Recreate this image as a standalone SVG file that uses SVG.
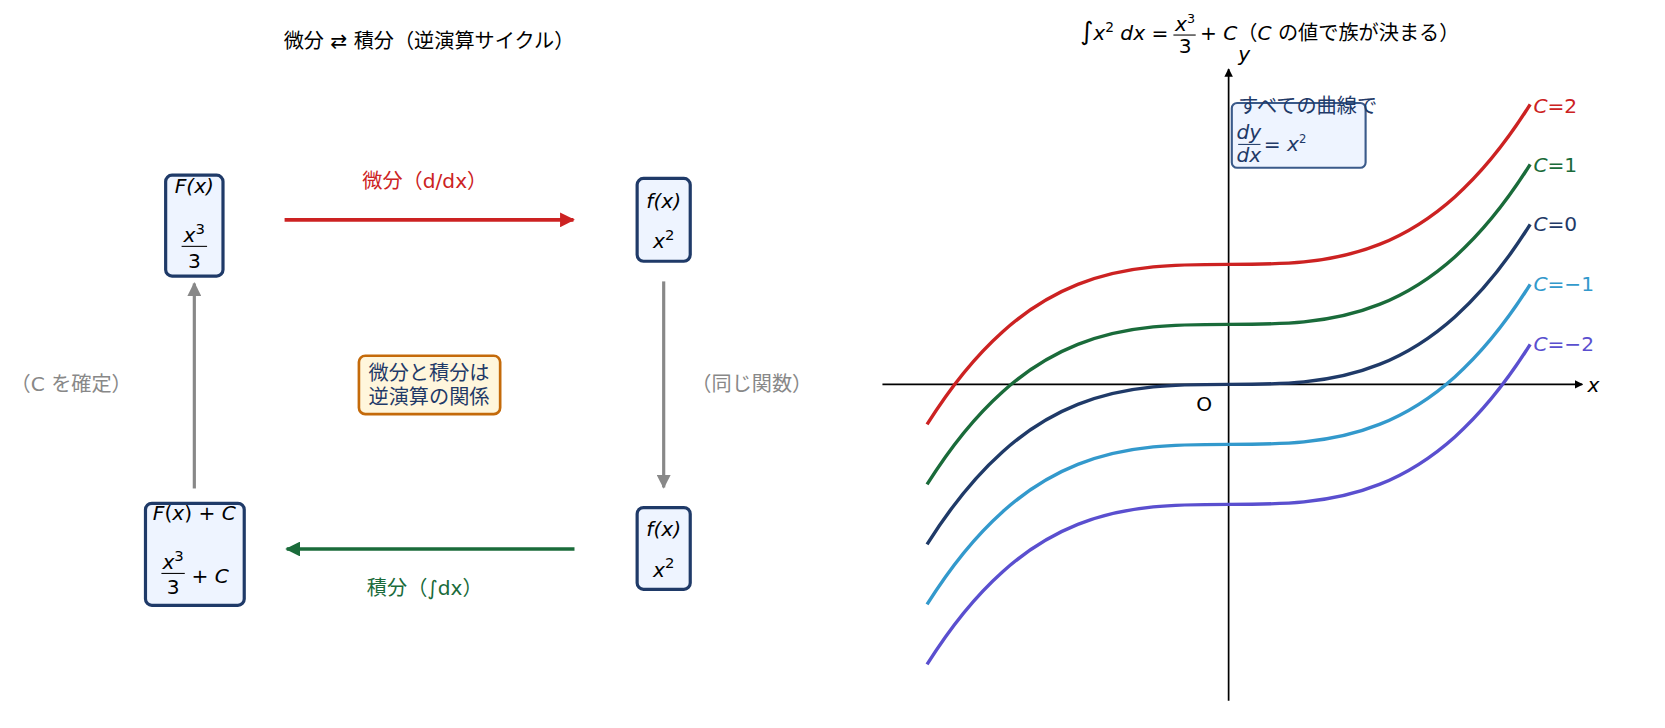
<svg xmlns="http://www.w3.org/2000/svg" width="1665" height="728" viewBox="0 0 1665 728">
<style>
text{font-family:"DejaVu Sans","Noto Sans CJK JP",sans-serif;font-size:19px}
.m{font-style:italic}
.node{fill:#eef4ff;stroke:#1f3a68;stroke-width:3}
.c{fill:none;stroke-width:3.2}
</style>
<defs>
<marker id="ar" viewBox="0 0 10 10" refX="9" refY="5" markerWidth="4" markerHeight="4" orient="auto"><path d="M0,0L10,5L0,10z" fill="#cc2222"/></marker>
<marker id="ag" viewBox="0 0 10 10" refX="9" refY="5" markerWidth="4" markerHeight="4" orient="auto"><path d="M0,0L10,5L0,10z" fill="#1a6b3a"/></marker>
<marker id="ay" viewBox="0 0 10 10" refX="9" refY="5" markerWidth="4.5" markerHeight="4.5" orient="auto"><path d="M0,0L10,5L0,10z" fill="#888"/></marker>
<marker id="ak" viewBox="0 0 10 10" refX="9" refY="5" markerWidth="5" markerHeight="5" orient="auto"><path d="M0,0L10,5L0,10z" fill="#000"/></marker>
<path id="cv" d="M873,512.67C1062.33,211.33 1251.67,512.67 1441,211.33"/>
</defs>
<rect width="1665" height="728" fill="#fff"/>
<g transform="scale(1.0619)">
<text x="404" y="45" text-anchor="middle">微分 ⇄ 積分（逆演算サイクル）</text>
<g id="connectors">
<line x1="268" y1="207" x2="540" y2="207" stroke="#cc2222" stroke-width="3.5" marker-end="url(#ar)"/>
<line x1="625" y1="265" x2="625" y2="459" stroke="#888" stroke-width="3" marker-end="url(#ay)"/>
<line x1="541" y1="517" x2="270" y2="517" stroke="#1a6b3a" stroke-width="3.5" marker-end="url(#ag)"/>
<line x1="183" y1="460" x2="183" y2="267" stroke="#888" stroke-width="3" marker-end="url(#ay)"/>
<text x="400" y="177" text-anchor="middle" fill="#cc2222">微分（d/dx）</text>
<text x="400" y="560" text-anchor="middle" fill="#1a6b3a">積分（∫dx）</text>
<text x="67" y="368" text-anchor="middle" fill="#888">（C を確定）</text>
<text x="708" y="368" text-anchor="middle" fill="#888">（同じ関数）</text>
</g>
<g id="nodeF">
<rect class="node" x="156" y="165" width="54" height="95" rx="6"/>
<text class="m" x="183" y="182" text-anchor="middle" font-size="20">F(x)</text>
<text class="m" x="183" y="228" text-anchor="middle" font-size="20">x<tspan font-size="14" dy="-8" font-style="normal">3</tspan></text>
<line x1="171" y1="232" x2="195" y2="232" stroke="#000" stroke-width="1"/>
<text x="183" y="252" text-anchor="middle" font-size="20">3</text>
</g>
<g id="nodef1">
<rect class="node" x="600" y="168" width="50" height="78" rx="6"/>
<text class="m" x="625" y="196" text-anchor="middle" font-size="20">f(x)</text>
<text class="m" x="625" y="234" text-anchor="middle" font-size="20">x<tspan font-size="14" dy="-8" font-style="normal">2</tspan></text>
</g>
<g id="nodef2">
<rect class="node" x="600" y="478" width="50" height="77" rx="6"/>
<text class="m" x="625" y="505" text-anchor="middle" font-size="20">f(x)</text>
<text class="m" x="625" y="543" text-anchor="middle" font-size="20">x<tspan font-size="14" dy="-8" font-style="normal">2</tspan></text>
</g>
<g id="nodeFC">
<rect class="node" x="137" y="474" width="93" height="96" rx="6"/>
<text x="183" y="490" text-anchor="middle" font-size="20"><tspan class="m">F</tspan>(<tspan class="m">x</tspan>) + <tspan class="m">C</tspan></text>
<text class="m" x="163" y="536" text-anchor="middle" font-size="20">x<tspan font-size="14" dy="-8" font-style="normal">3</tspan></text>
<line x1="152" y1="540" x2="174" y2="540" stroke="#000" stroke-width="1"/>
<text x="163" y="559" text-anchor="middle" font-size="20">3</text>
<text x="198" y="549" text-anchor="middle" font-size="20">+ <tspan class="m">C</tspan></text>
</g>
<g id="center">
<rect x="338" y="335" width="133" height="55" rx="6" fill="#fff6dc" stroke="#c46a0a" stroke-width="2.5"/>
<text x="404" y="358" text-anchor="middle" fill="#1f3a68">微分と積分は</text>
<text x="404" y="380" text-anchor="middle" fill="#1f3a68">逆演算の関係</text>
</g>
<g id="plot">
<text x="1017" y="38"><tspan font-size="24">∫</tspan><tspan class="m">x</tspan><tspan font-size="13" dy="-8">2</tspan><tspan class="m" dy="8"> dx</tspan> =</text>
<text class="m" x="1116" y="29" text-anchor="middle" font-size="17">x<tspan font-size="12" dy="-7" font-style="normal">3</tspan></text>
<line x1="1105" y1="33" x2="1126" y2="33" stroke="#000" stroke-width="1"/>
<text x="1116" y="50" text-anchor="middle" font-size="17">3</text>
<text x="1130" y="38">+ <tspan class="m">C</tspan>（<tspan class="m">C</tspan> の値で族が決まる）</text>
<line x1="831" y1="362" x2="1490" y2="362" stroke="#000" stroke-width="1.6" marker-end="url(#ak)"/>
<line x1="1157" y1="660" x2="1157" y2="65" stroke="#000" stroke-width="1.6" marker-end="url(#ak)"/>
<text class="m" x="1495" y="369" font-size="20">x</text>
<text class="m" x="1166" y="57" font-size="20">y</text>
<text x="1134" y="387" text-anchor="middle">O</text>
<use href="#cv" class="c" stroke="#cc2222" transform="translate(0,-113)"/>
<use href="#cv" class="c" stroke="#1a6b3a" transform="translate(0,-56.5)"/>
<use href="#cv" class="c" stroke="#1f3a68"/>
<use href="#cv" class="c" stroke="#3399cc" transform="translate(0,56.5)"/>
<use href="#cv" class="c" stroke="#5a4fcf" transform="translate(0,113)"/>
<g font-size="15">
<text x="1444" y="106" fill="#cc2222"><tspan class="m">C</tspan>=2</text>
<text x="1444" y="162" fill="#1a6b3a"><tspan class="m">C</tspan>=1</text>
<text x="1444" y="218" fill="#1f3a68"><tspan class="m">C</tspan>=0</text>
<text x="1444" y="274" fill="#3399cc"><tspan class="m">C</tspan>=−1</text>
<text x="1444" y="331" fill="#5a4fcf"><tspan class="m">C</tspan>=−2</text>
</g>
<rect x="1160" y="97" width="126" height="61" rx="5" fill="#eef4ff" stroke="#3a5a8a" stroke-width="2"/>
<text x="1166" y="106" fill="#1f3a68" font-size="14">すべての曲線で</text>
<text class="m" x="1176" y="131" text-anchor="middle" fill="#1f3a68" font-size="16">dy</text>
<line x1="1166" y1="136" x2="1187" y2="136" stroke="#1f3a68" stroke-width="1"/>
<text class="m" x="1176" y="153" text-anchor="middle" fill="#1f3a68" font-size="16">dx</text>
<text x="1190" y="142" fill="#1f3a68" font-size="16">= <tspan class="m">x</tspan><tspan font-size="11" dy="-7">2</tspan></text>
</g>
</g>
</svg>
